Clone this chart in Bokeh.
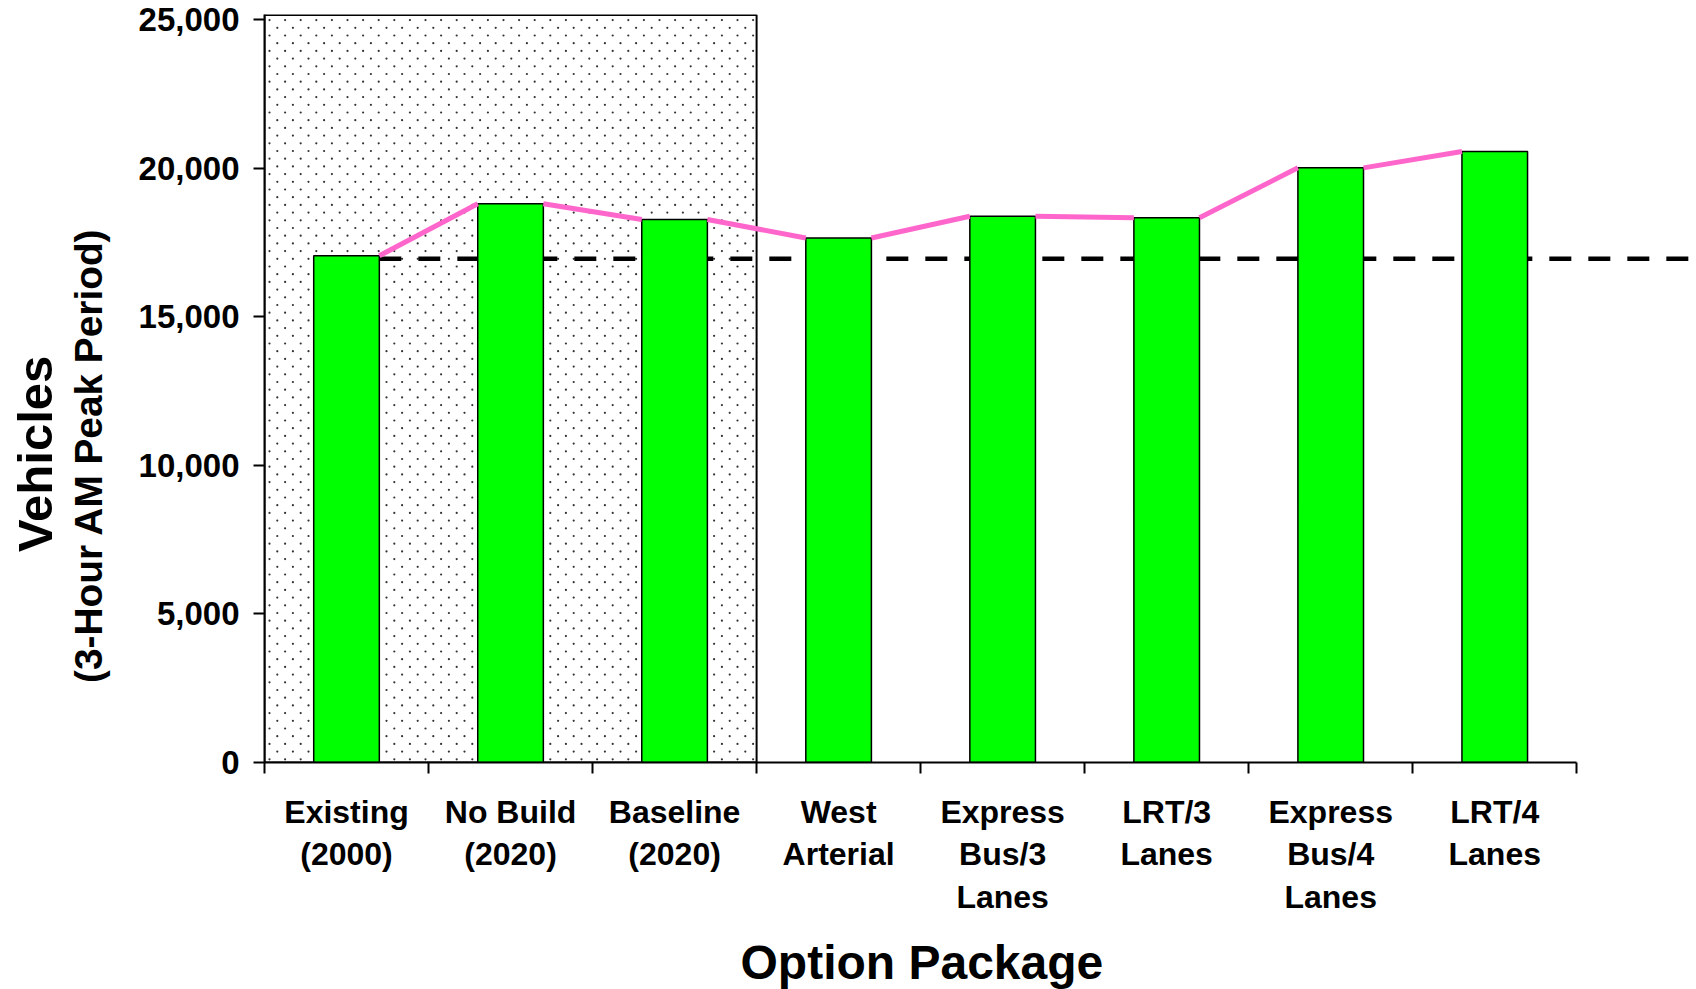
import numpy as np
from bokeh.plotting import figure
from bokeh.models import FixedTicker, NumeralTickFormatter, Title, Range1d
from bokeh.embed import file_html
from bokeh.resources import INLINE

# Option packages (tick labels) and 3-hour AM peak vehicle volumes
packages = [
    "Existing\n(2000)", "No Build\n(2020)", "Baseline\n(2020)", "West\nArterial",
    "Express\nBus/3\nLanes", "LRT/3\nLanes", "Express\nBus/4\nLanes", "LRT/4\nLanes",
]
vehicles = [17050, 18800, 18270, 17650, 18380, 18330, 20010, 20560]
existing_level = 16950          # reference level carried across as the dashed line
reference_count = 3             # packages drawn over the shaded reference panel
y_ticks = [0, 5000, 10000, 15000, 20000, 25000]

FONT = "Liberation Sans"
BAR_W = 0.4
X_END = 8.73
Y_END = 25170
PANEL_TOP = 25150

W, H = 1696, 989
BORDER_LEFT, BORDER_TOP, BORDER_BOTTOM = 264, 14, 227
FRAME_W = W - BORDER_LEFT
FRAME_H = H - BORDER_TOP - BORDER_BOTTOM
px_per_x = FRAME_W / X_END
px_per_y = FRAME_H / Y_END

centers = np.arange(len(packages)) + 0.5

p = figure(
    width=W, height=H,
    x_range=Range1d(0, X_END), y_range=Range1d(0, Y_END),
    output_backend="svg", toolbar_location=None,
    min_border_left=BORDER_LEFT, min_border_right=0,
    min_border_top=BORDER_TOP, min_border_bottom=BORDER_BOTTOM,
)
p.outline_line_color = None
p.xgrid.visible = False
p.ygrid.visible = False
p.background_fill_color = "white"
p.border_fill_color = "white"

# shaded panel behind the existing / no-build / baseline packages
p.quad(left=0, right=reference_count, bottom=0, top=PANEL_TOP,
       fill_color="white", line_color="black", line_width=2)

# stippled texture for the panel (staggered dot lattice)
dx = 15.6 / px_per_x
dy = 7.7 / px_per_y
dot_x, dot_y = [], []
for k, yy in enumerate(np.arange(PANEL_TOP - 5 / px_per_y, 0, -dy)):
    xs = np.arange(5 / px_per_x + (k % 2) * dx / 2, reference_count - 2 / px_per_x, dx)
    dot_x.extend(xs)
    dot_y.extend([yy] * len(xs))
p.scatter(dot_x, dot_y, size=2.2, marker="circle", fill_color="#333333", line_color=None)

# dashed level of existing traffic
p.line(x=[centers[0] + BAR_W / 2, X_END + 1], y=[existing_level, existing_level],
       line_color="black", line_width=4.5, line_dash="22 17")

# bars
p.vbar(x=centers, top=vehicles, bottom=0, width=BAR_W,
       fill_color="#00FF00", line_color="black", line_width=1.5)

# trend segments joining neighbouring bar tops
p.segment(x0=centers[:-1] + BAR_W / 2, y0=vehicles[:-1],
          x1=centers[1:] - BAR_W / 2, y1=vehicles[1:],
          line_color="#FF66CC", line_width=5, line_cap="butt")

# x axis: labels centred under bars, ticks at category boundaries
xa = p.xaxis[0]
xa.ticker = FixedTicker(ticks=list(centers), minor_ticks=list(range(len(packages) + 1)))
xa.major_label_overrides = {float(c): lab for c, lab in zip(centers, packages)}
xa.bounds = (0, len(packages))
xa.axis_line_width = 2
xa.axis_line_color = "black"
xa.major_tick_out = 0
xa.major_tick_in = 0
xa.minor_tick_out = 11
xa.minor_tick_in = 0
xa.minor_tick_line_width = 2
xa.minor_tick_line_color = "black"
xa.major_label_text_font = FONT
xa.major_label_text_font_style = "bold"
xa.major_label_text_font_size = "32px"
xa.major_label_text_color = "black"
xa.major_label_text_line_height = 1.19
xa.major_label_standoff = 20
# blank axis label used only as spacing above the title
xa.axis_label = " "
xa.axis_label_text_font_size = "10px"
xa.axis_label_standoff = 1

# y axis
ya = p.yaxis[0]
ya.ticker = FixedTicker(ticks=y_ticks)
ya.formatter = NumeralTickFormatter(format="0,0")
ya.axis_line_width = 2
ya.axis_line_color = "black"
ya.major_tick_out = 11
ya.major_tick_in = 0
ya.major_tick_line_width = 2
ya.minor_tick_out = 0
ya.minor_tick_in = 0
ya.major_label_text_font = FONT
ya.major_label_text_font_style = "bold"
ya.major_label_text_font_size = "33px"
ya.major_label_text_color = "black"
ya.major_label_standoff = 14
# blank axis label used only as spacing before the side titles
ya.axis_label = " "
ya.axis_label_text_font_size = "10px"
ya.axis_label_standoff = 10

title_style = dict(text_font=FONT, text_font_style="bold", text_color="black")

# x axis title
p.add_layout(Title(text="Option Package", align="left", offset=476,
                   text_font_size="48px", standoff=0, **title_style), "below")

# two-line vertical axis title
p.add_layout(Title(text="(3-Hour AM Peak Period)", align="left", offset=79.6,
                   text_font_size="38.8px", standoff=4, **title_style), "left")
p.add_layout(Title(text="Vehicles", align="left", offset=210.6,
                   text_font_size="49px", standoff=1, **title_style), "left")

open("out.html", "w").write(file_html(p, INLINE))
